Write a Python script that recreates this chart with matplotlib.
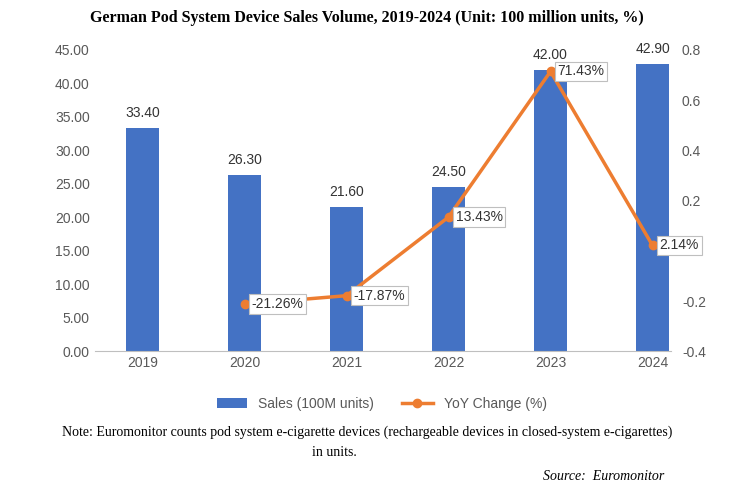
import matplotlib
matplotlib.use("Agg")
import matplotlib.pyplot as plt

plt.rcParams["font.family"] = ["Liberation Sans", "DejaVu Sans"]

years = ["2019", "2020", "2021", "2022", "2023", "2024"]
sales = [33.40, 26.30, 21.60, 24.50, 42.00, 42.90]
yoy_years = ["2020", "2021", "2022", "2023", "2024"]
yoy = [-0.2126, -0.1787, 0.1343, 0.7143, 0.0214]

fig = plt.figure(figsize=(7.34, 4.94), dpi=100)
ax = fig.add_axes([0.129, 0.289, 0.785, 0.61])
x = list(range(len(years)))
bars = ax.bar(x, sales, width=0.33, color="#4472C4", label="Sales (100M units)")
ax.set_ylim(0, 45)
ax.set_yticks([i * 5 for i in range(10)])
ax.set_yticklabels([f"{i*5:.2f}" for i in range(10)])
ax.set_xlim(-0.47, 5.18)
ax.set_xticks(x)
ax.set_xticklabels(years)
for xi, v in zip(x, sales):
    ax.text(xi, v + 1.2, f"{v:.2f}", ha="center", va="bottom", fontsize=10, color="#333333")
for s in ["top", "right", "left"]:
    ax.spines[s].set_visible(False)
ax.spines["bottom"].set_color("#BFBFBF")
ax.tick_params(length=0, colors="#595959", labelsize=10)

ax2 = ax.twinx()
xl = [years.index(y) for y in yoy_years]
line, = ax2.plot(xl, yoy, color="#ED7D31", lw=2.5, marker="o", ms=6, label="YoY Change (%)")
ax2.set_ylim(-0.4, 0.8)
ax2.set_yticks([-0.4, -0.2, 0, 0.2, 0.4, 0.6, 0.8])
ax2.set_yticklabels(["-0.4", "-0.2", "0", "0.2", "0.4", "0.6", "0.8"])
for s in ["top", "right", "left", "bottom"]:
    ax2.spines[s].set_visible(False)
ax2.tick_params(length=0, colors="#595959", labelsize=10, pad=8)
for xi, v in zip(xl, yoy):
    ax2.text(xi + 0.07, v, f"{v*100:.2f}%", ha="left", va="center", fontsize=10, color="#333333",
             bbox=dict(boxstyle="square,pad=0.2", fc="white", ec="#BFBFBF", lw=0.8), zorder=5)

fig.legend(handles=[bars, line], loc="center", bbox_to_anchor=(0.52, 0.182), ncol=2, frameon=False,
           fontsize=10, labelcolor="#595959", handlelength=2.2)
fig.text(0.5, 0.963, "German Pod System Device Sales Volume, 2019-2024 (Unit: 100 million units, %)",
         ha="center", va="center", fontsize=11.5, fontweight="bold", family="Liberation Serif")
fig.text(0.5, 0.125, "Note: Euromonitor counts pod system e-cigarette devices (rechargeable devices in closed-system e-cigarettes)",
         ha="center", va="center", fontsize=10, family="Liberation Serif")
fig.text(0.455, 0.085, "in units.", ha="center", va="center", fontsize=10, family="Liberation Serif")
fig.text(0.905, 0.035, "Source:  Euromonitor", ha="right", va="center", fontsize=10, style="italic",
         family="Liberation Serif")
fig.savefig("out.png", dpi=100)
